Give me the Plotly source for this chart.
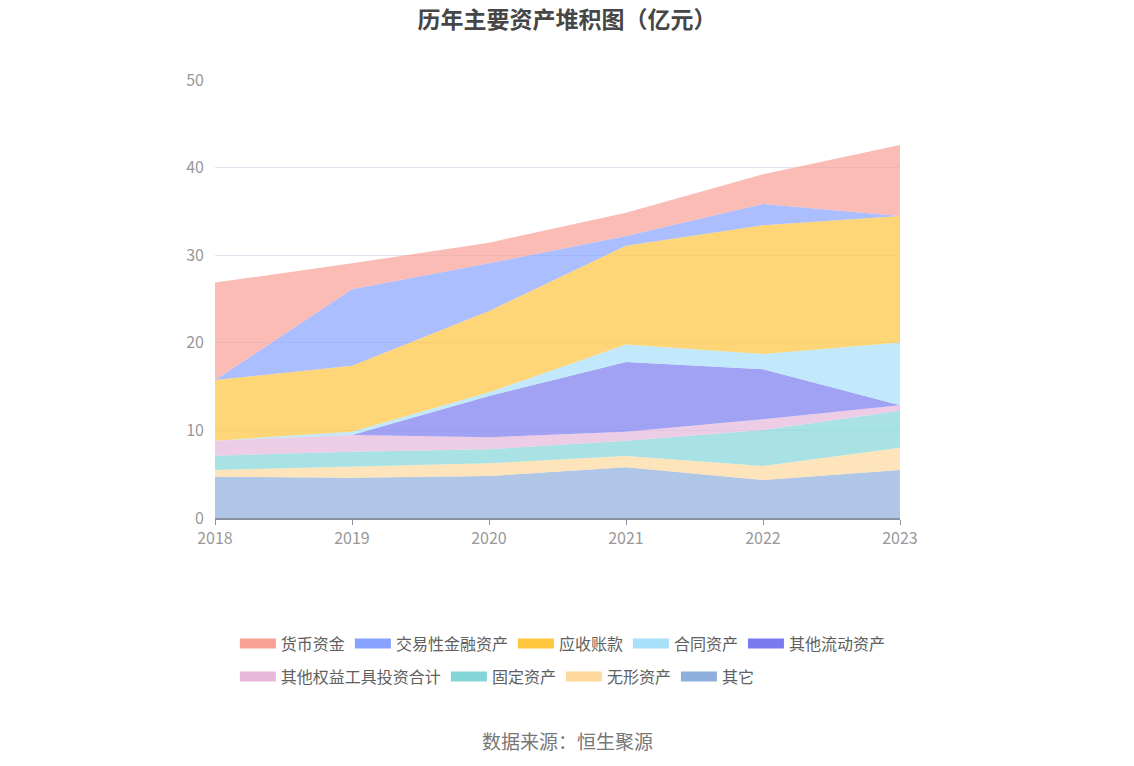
import plotly.graph_objects as go

# data (亿元)
years = [2018, 2019, 2020, 2021, 2022, 2023]

other = [4.72, 4.60, 4.79, 5.78, 4.34, 5.48]           # 其它
intangible = [0.76, 1.26, 1.45, 1.30, 1.60, 2.55]      # 无形资产
fixed_assets = [1.63, 1.71, 1.60, 1.75, 4.11, 4.22]    # 固定资产
equity_invest = [1.72, 1.90, 1.37, 1.02, 1.21, 0.61]   # 其他权益工具投资合计
other_current = [0.0, 0.0, 4.72, 7.96, 5.71, 0.0]      # 其他流动资产
contract = [0.0, 0.38, 0.42, 2.01, 1.75, 7.16]         # 合同资产
receivables = [6.92, 7.54, 9.28, 11.27, 14.69, 14.45]  # 应收账款
trading = [0.0, 8.71, 5.44, 1.10, 2.43, 0.0]           # 交易性金融资产
cash = [11.12, 2.97, 2.36, 2.67, 3.39, 8.11]           # 货币资金

# bottom -> top stacking order
series = [
    ("其它", other, "#8eaedc", 2),
    ("无形资产", intangible, "#fed89c", 2),
    ("固定资产", fixed_assets, "#84d5d8", 2),
    ("其他权益工具投资合计", equity_invest, "#e6b8dc", 2),
    ("其他流动资产", other_current, "#7a7af0", 1),
    ("合同资产", contract, "#a8e0fa", 1),
    ("应收账款", receivables, "#fec53d", 1),
    ("交易性金融资产", trading, "#87a3ff", 1),
    ("货币资金", cash, "#f8a095", 1),
]

def rgba(hex_color, a):
    h = hex_color.lstrip("#")
    r, g, b = int(h[0:2], 16), int(h[2:4], 16), int(h[4:6], 16)
    return f"rgba({r},{g},{b},{a})"

fig = go.Figure()
for name, vals, color, leg in series:
    fig.add_trace(go.Scatter(
        x=years, y=vals, name=name, mode="lines",
        stackgroup="one", line=dict(width=0, color=color),
        fillcolor=rgba(color, 0.7), showlegend=False,
        hoverinfo="x+y+name",
    ))

# legend entries (solid colour swatches)
for name, vals, color, leg in series:
    fig.add_trace(go.Scatter(
        x=[None], y=[None], name=name, mode="lines",
        line=dict(width=16, color=color),
        legend="legend" if leg == 1 else "legend2",
        hoverinfo="skip",
    ))

legend_font = dict(size=16, color="#606060")

fig.update_layout(
    width=1118, height=750,
    paper_bgcolor="white", plot_bgcolor="white",
    margin=dict(l=207, r=226, t=72, b=240),
    font=dict(family="Noto Sans CJK SC, sans-serif", color="#666"),
    title=dict(text="<b>历年主要资产堆积图（亿元）</b>", x=0.5, xanchor="center",
               y=0.995, yanchor="top",
               font=dict(size=23, color="#464646")),
    legend=dict(orientation="h", x=0.029, xanchor="left", y=-0.287, yanchor="middle",
                traceorder="reversed", font=legend_font,
                itemwidth=36, tracegroupgap=0),
    legend2=dict(orientation="h", x=0.029, xanchor="left", y=-0.362, yanchor="middle",
                 traceorder="reversed", font=legend_font,
                 itemwidth=36, tracegroupgap=0),
    showlegend=True,
)

fig.update_xaxes(
    range=[2018, 2023], tickmode="linear", dtick=1, tick0=2018,
    showgrid=False, showline=True, linecolor="#8a93a5", linewidth=1.5,
    ticks="outside", ticklen=5, tickcolor="#8a93a5",
    tickfont=dict(size=16, color="#999999"), zeroline=False,
)
fig.update_yaxes(
    range=[0, 50], dtick=10, showgrid=True, gridcolor="#e0e6f1",
    showline=False, zeroline=False, ticks="",
    tickfont=dict(size=16, color="#999999"), ticklabelstandoff=10,
)

fig.add_annotation(
    text="数据来源：恒生聚源", xref="paper", yref="paper",
    x=0.514, y=-0.507, yanchor="middle", showarrow=False,
    font=dict(size=19, color="#777"),
)

fig.write_html("out.html")
